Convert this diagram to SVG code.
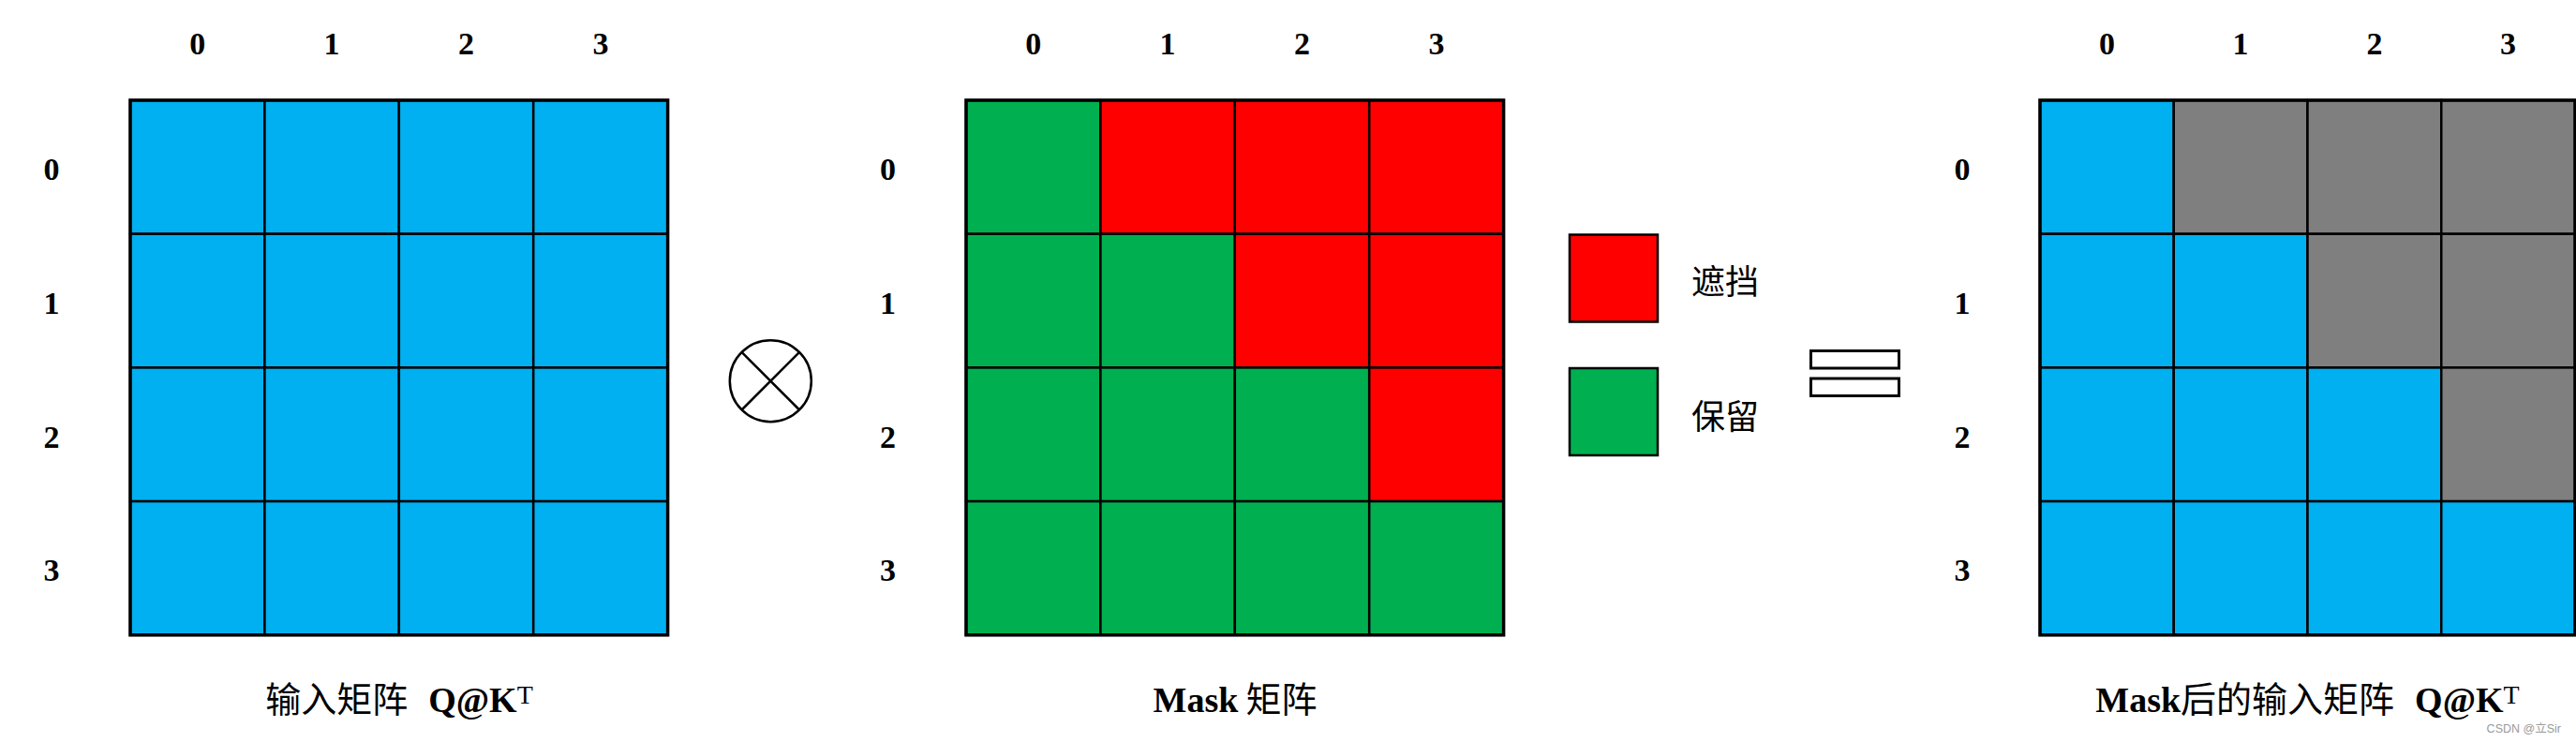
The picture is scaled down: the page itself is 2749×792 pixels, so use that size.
<svg xmlns="http://www.w3.org/2000/svg" width="2749" height="792" viewBox="0 0 2749 792">
<style>
.b{fill:#00B0F0}.r{fill:#FF0000}.g{fill:#00B050}.k{fill:#7F7F7F}
.cell rect{stroke:#000;stroke-width:2.5}
.lbl{font-family:"Liberation Serif",serif;font-weight:bold;font-size:34px;fill:#000;text-anchor:middle}
.cap{font-size:38px;fill:#000;text-anchor:middle}
.cjk{font-family:"Noto Sans CJK SC",sans-serif;font-weight:400}
.lat{font-family:"Liberation Serif",serif;font-weight:bold}
.sup{font-family:"Liberation Serif",serif;font-weight:normal;font-size:28px}
.frame{fill:none;stroke:#000;stroke-width:3.5}
</style>
<rect width="2749" height="792" fill="#fff"/>

<g id="matrix-input">
  <g class="cell">
    <rect class="b" x="139" y="107" width="143.4" height="142.7"/><rect class="b" x="282.4" y="107" width="143.4" height="142.7"/><rect class="b" x="425.8" y="107" width="143.4" height="142.7"/><rect class="b" x="569.2" y="107" width="143.4" height="142.7"/>
    <rect class="b" x="139" y="249.7" width="143.4" height="142.7"/><rect class="b" x="282.4" y="249.7" width="143.4" height="142.7"/><rect class="b" x="425.8" y="249.7" width="143.4" height="142.7"/><rect class="b" x="569.2" y="249.7" width="143.4" height="142.7"/>
    <rect class="b" x="139" y="392.4" width="143.4" height="142.7"/><rect class="b" x="282.4" y="392.4" width="143.4" height="142.7"/><rect class="b" x="425.8" y="392.4" width="143.4" height="142.7"/><rect class="b" x="569.2" y="392.4" width="143.4" height="142.7"/>
    <rect class="b" x="139" y="535.1" width="143.4" height="142.7"/><rect class="b" x="282.4" y="535.1" width="143.4" height="142.7"/><rect class="b" x="425.8" y="535.1" width="143.4" height="142.7"/><rect class="b" x="569.2" y="535.1" width="143.4" height="142.7"/>
  </g>
  <rect class="frame" x="139" y="107" width="573.6" height="570.8"/>
  <text class="lbl" x="210.7" y="58">0</text><text class="lbl" x="354.1" y="58">1</text><text class="lbl" x="497.5" y="58">2</text><text class="lbl" x="640.9" y="58">3</text>
  <text class="lbl" x="55" y="192">0</text><text class="lbl" x="55" y="335">1</text><text class="lbl" x="55" y="478">2</text><text class="lbl" x="55" y="620">3</text>
  <text class="cap" x="426" y="760"><tspan class="cjk">输入矩阵</tspan><tspan class="lat" dx="22">Q@K</tspan><tspan class="sup" dy="-9">T</tspan></text>
</g>

<g id="op-otimes">
  <circle cx="822.3" cy="406.7" r="43.5" fill="none" stroke="#000" stroke-width="2.5"/>
  <line x1="791.5" y1="375.9" x2="853.1" y2="437.5" stroke="#000" stroke-width="2.5"/>
  <line x1="853.1" y1="375.9" x2="791.5" y2="437.5" stroke="#000" stroke-width="2.5"/>
</g>

<g id="matrix-mask">
  <g class="cell">
    <rect class="g" x="1031" y="107" width="143.4" height="142.7"/><rect class="r" x="1174.4" y="107" width="143.4" height="142.7"/><rect class="r" x="1317.8" y="107" width="143.4" height="142.7"/><rect class="r" x="1461.2" y="107" width="143.4" height="142.7"/>
    <rect class="g" x="1031" y="249.7" width="143.4" height="142.7"/><rect class="g" x="1174.4" y="249.7" width="143.4" height="142.7"/><rect class="r" x="1317.8" y="249.7" width="143.4" height="142.7"/><rect class="r" x="1461.2" y="249.7" width="143.4" height="142.7"/>
    <rect class="g" x="1031" y="392.4" width="143.4" height="142.7"/><rect class="g" x="1174.4" y="392.4" width="143.4" height="142.7"/><rect class="g" x="1317.8" y="392.4" width="143.4" height="142.7"/><rect class="r" x="1461.2" y="392.4" width="143.4" height="142.7"/>
    <rect class="g" x="1031" y="535.1" width="143.4" height="142.7"/><rect class="g" x="1174.4" y="535.1" width="143.4" height="142.7"/><rect class="g" x="1317.8" y="535.1" width="143.4" height="142.7"/><rect class="g" x="1461.2" y="535.1" width="143.4" height="142.7"/>
  </g>
  <rect class="frame" x="1031" y="107" width="573.6" height="570.8"/>
  <text class="lbl" x="1102.7" y="58">0</text><text class="lbl" x="1246.1" y="58">1</text><text class="lbl" x="1389.5" y="58">2</text><text class="lbl" x="1532.9" y="58">3</text>
  <text class="lbl" x="947.5" y="192">0</text><text class="lbl" x="947.5" y="335">1</text><text class="lbl" x="947.5" y="478">2</text><text class="lbl" x="947.5" y="620">3</text>
  <text class="cap" x="1318" y="760"><tspan class="lat">Mask</tspan><tspan class="cjk" dx="8">矩阵</tspan></text>
</g>

<g id="legend-block">
  <rect class="r" x="1675" y="250.5" width="94" height="93" stroke="#000" stroke-width="2.5"/>
  <text class="cjk" x="1805" y="314" font-size="36">遮挡</text>
</g>
<g id="legend-keep">
  <rect class="g" x="1675" y="393" width="94" height="93" stroke="#000" stroke-width="2.5"/>
  <text class="cjk" x="1805" y="458" font-size="36">保留</text>
</g>

<g id="op-equals">
  <rect x="1932.5" y="374.5" width="94" height="18.5" fill="#fff" stroke="#000" stroke-width="3"/>
  <rect x="1932.5" y="404" width="94" height="18.5" fill="#fff" stroke="#000" stroke-width="3"/>
</g>

<g id="matrix-result">
  <g class="cell">
    <rect class="b" x="2177" y="107" width="142.75" height="142.7"/><rect class="k" x="2319.75" y="107" width="142.75" height="142.7"/><rect class="k" x="2462.5" y="107" width="142.75" height="142.7"/><rect class="k" x="2605.25" y="107" width="142.75" height="142.7"/>
    <rect class="b" x="2177" y="249.7" width="142.75" height="142.7"/><rect class="b" x="2319.75" y="249.7" width="142.75" height="142.7"/><rect class="k" x="2462.5" y="249.7" width="142.75" height="142.7"/><rect class="k" x="2605.25" y="249.7" width="142.75" height="142.7"/>
    <rect class="b" x="2177" y="392.4" width="142.75" height="142.7"/><rect class="b" x="2319.75" y="392.4" width="142.75" height="142.7"/><rect class="b" x="2462.5" y="392.4" width="142.75" height="142.7"/><rect class="k" x="2605.25" y="392.4" width="142.75" height="142.7"/>
    <rect class="b" x="2177" y="535.1" width="142.75" height="142.7"/><rect class="b" x="2319.75" y="535.1" width="142.75" height="142.7"/><rect class="b" x="2462.5" y="535.1" width="142.75" height="142.7"/><rect class="b" x="2605.25" y="535.1" width="142.75" height="142.7"/>
  </g>
  <rect class="frame" x="2177" y="107" width="571" height="570.8"/>
  <text class="lbl" x="2248.4" y="58">0</text><text class="lbl" x="2391.1" y="58">1</text><text class="lbl" x="2533.9" y="58">2</text><text class="lbl" x="2676.6" y="58">3</text>
  <text class="lbl" x="2094" y="192">0</text><text class="lbl" x="2094" y="335">1</text><text class="lbl" x="2094" y="478">2</text><text class="lbl" x="2094" y="620">3</text>
  <text class="cap" x="2462.5" y="760"><tspan class="lat">Mask</tspan><tspan class="cjk">后的输入矩阵</tspan><tspan class="lat" dx="22">Q@K</tspan><tspan class="sup" dy="-9">T</tspan></text>
</g>

<g id="connectors"></g>

<text x="2733" y="782" font-family="Liberation Sans,sans-serif" font-size="12.5" fill="#9a9a9a" text-anchor="end">CSDN @<tspan font-family="Noto Sans CJK SC,sans-serif">立</tspan>Sir</text>
</svg>
